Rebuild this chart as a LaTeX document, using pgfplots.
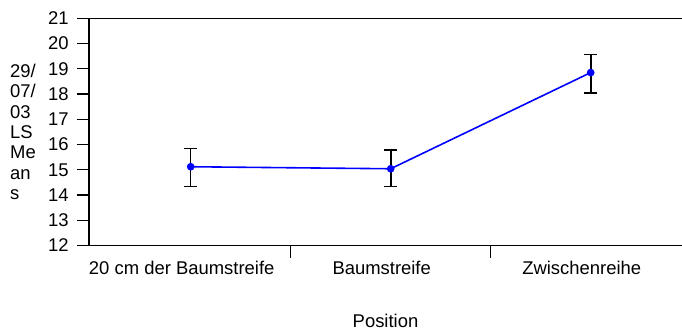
\documentclass[border=0pt]{standalone}
\usepackage{pgfplots}
\pgfplotsset{compat=1.18}
\usepackage{fontspec}
\setmainfont{Liberation Sans}
\begin{document}
\fontsize{18.5}{20.5}\selectfont
\begin{tikzpicture}
\begin{axis}[
  scale only axis,
  width=593bp, height=227.2bp,
  xmin=-0.5085, xmax=2.4565,
  ymin=12, ymax=21,
  ytick={12,...,21},
  axis x line=box, axis y line=left,
  y axis line style={-},
  axis line style={line width=1.4pt, black},
  tick style={line width=1.2pt, black},
  tick align=outside,
  xtick pos=bottom, ytick pos=left,
  major tick length=12bp,
  xtick={0.5,1.5}, xticklabels={},
  extra x ticks={0,1,2},
  extra x tick labels={20 cm der Baumstreife, Baumstreife, Zwischenreihe},
  extra x tick style={major tick length=0pt, tick style={draw=none}},
  xticklabel style={xshift=-9bp, yshift=-9bp},
  yticklabel style={xshift=-2bp},
  /pgf/number format/assume math mode=true,
  tick label style={font=\fontsize{18.5}{20.5}\selectfont},
  xlabel={Position},
  every axis x label/.style={at={(axis description cs:0.5,0)}, anchor=base, yshift=-82bp, inner sep=0pt},
  ylabel={29/\\07/\\03\\LS\\Me\\an\\s},
  every axis y label/.style={at={(axis description cs:0,0.5)}, anchor=west, xshift=-79bp, align=left, inner sep=0pt, font=\fontsize{18.5}{20.5}\selectfont},
  clip=false,
]
\addplot[blue, line width=1.6pt, mark=*, mark size=3bp, mark options={fill=blue},
  error bars/.cd, y dir=both, y explicit,
  error bar style={black, line width=1.6pt},
  error mark options={black, line width=1.6pt, rotate=90, mark size=6.5bp}]
  table[x=x, y=y, y error plus=ep, y error minus=em] {
x y ep em
0 15.12 0.73 0.79
1 15.04 0.74 0.71
2 18.85 0.72 0.80
};
\coordinate (bl) at (axis description cs:0,0);
\coordinate (tr) at (axis description cs:1,1);
\end{axis}
\pgfresetboundingbox
\path ([xshift=-89bp,yshift=-85.5bp]bl) rectangle ([yshift=18.3bp]tr);
\end{tikzpicture}
\end{document}
